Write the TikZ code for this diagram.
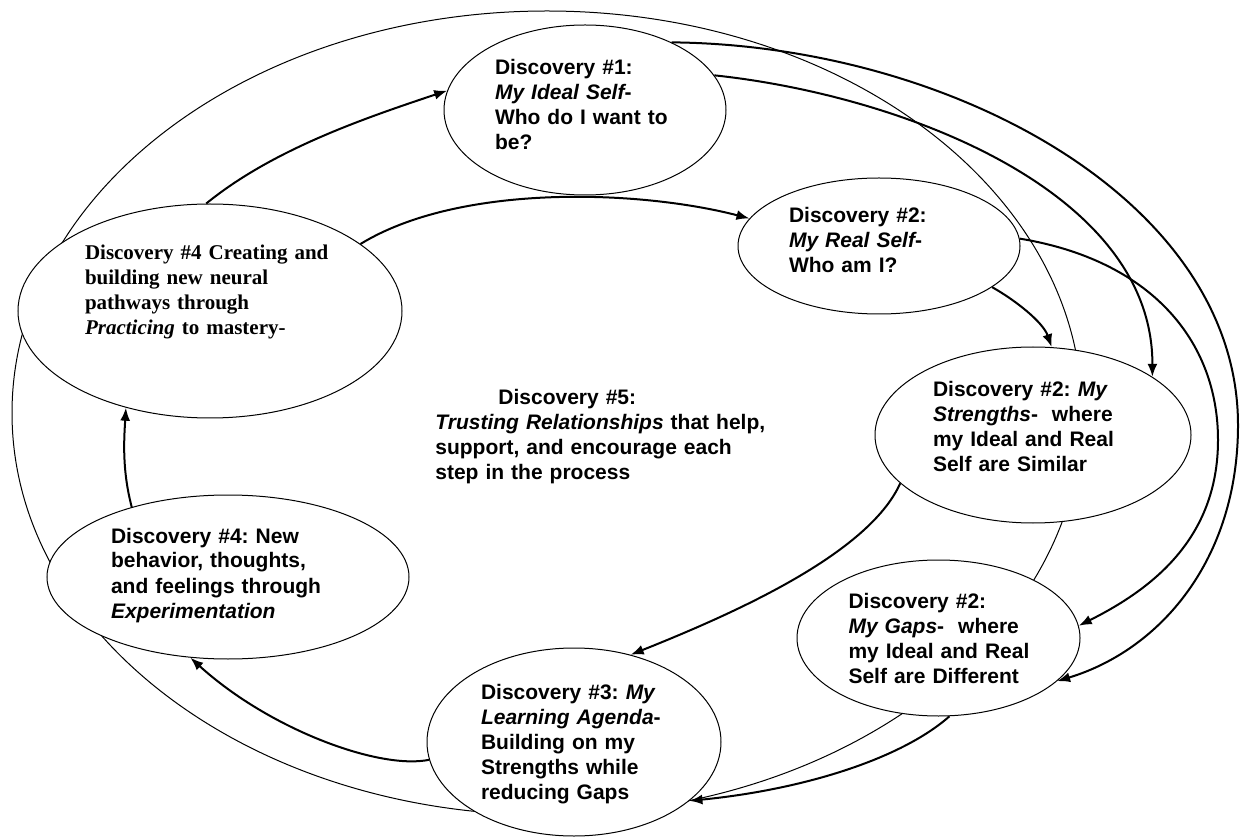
\documentclass[tikz,border=0pt]{standalone}
\usepackage{fontspec}
\setmainfont{Liberation Sans}
\newfontfamily\serifbold{Liberation Serif}
\usetikzlibrary{shapes.geometric,arrows.meta}

\tikzset{
  disc/.style={ellipse, draw, fill=white, line width=0.5pt, inner sep=0pt,
    align=left, text height=8pt,
    font=\fontsize{10.5pt}{12.5pt}\selectfont\bfseries\frenchspacing},
  flow/.style={->, line width=1pt}
}

\begin{document}
\begin{tikzpicture}[x=0.5pt, y=-0.5pt, >={Latex[length=6.5pt,width=5pt]}]
    \useasboundingbox (0,0) rectangle (1242,839);

    % the big loop behind everything
    \draw[line width=0.5pt] (547,413) ellipse [x radius=535, y radius=402];

    \node[disc, minimum width=141pt, minimum height=85pt, text width=90pt, text depth=43pt] (ideal) at (585,110)
        {Discovery \#1:\\ {\itshape My Ideal Self}-\\ Who do I want to\\ be?};
    \node[disc, minimum width=141pt, minimum height=68pt, text width=90pt, text depth=31pt] (real) at (879,246)
        {Discovery \#2:\\ {\itshape My Real Self}-\\ Who am I?};
    \node[disc, minimum width=158pt, minimum height=88pt, text width=100pt, text depth=46pt] (strengths) at (1033,435)
        {Discovery \#2: {\itshape My}\\ {\itshape Strengths}-~ where\\ my~Ideal~and~Real\\ Self are Similar};
    \node[disc, minimum width=141.5pt, minimum height=78pt, text width=90pt, text depth=38pt] (gaps) at (938.5,638)
        {Discovery \#2:\\ {\itshape My Gaps}-~ where\\ my~Ideal~and~Real\\ Self~are~Different};
    \node[disc, minimum width=147pt, minimum height=94pt, text width=93pt, text depth=51pt] (learning) at (574,742)
        {Discovery \#3: {\itshape My}\\ {\itshape Learning Agenda}-\\ Building on my\\ Strengths while\\ reducing Gaps};
    \node[disc, minimum width=181pt, minimum height=82pt, text width=117pt, text depth=42pt] (exper) at (228,577)
        {Discovery \#4: New\\ behavior, thoughts,\\ and feelings through\\ {\itshape Experimentation}};
    \node[disc, minimum width=192pt, minimum height=107pt, text width=125pt, text depth=59pt,
          font=\fontsize{10.5pt}{12.5pt}\selectfont\serifbold\bfseries\frenchspacing] (practicing) at (210,311)
        {Discovery \#4 Creating and\\ building new neural\\ pathways through\\ {\itshape Practicing} to mastery-};

    % centre text
    \node[anchor=base west, inner sep=0pt, text width=180pt, align=left,
          font=\fontsize{10.5pt}{12.5pt}\selectfont\bfseries\frenchspacing] (trust) at (435,405)
        {\hspace*{31.5pt}Discovery \#5:\\ {\itshape Trusting Relationships} that help,\\ support, and encourage each\\ step in the process};

    % the cycle
    \draw[flow] (practicing.92) .. controls (272,150) and (362,119) .. (ideal.172);
    \draw[flow] (practicing.24) .. controls (460,183) and (640,190) .. (real.168);
    \draw[flow] (real.-20) .. controls (1015,300) and (1043,322) .. (strengths.78);
    \draw[flow] (ideal.38) .. controls (950,45) and (1238,200) .. (1238,425)
                .. controls (1238,560) and (1160,650) .. (gaps.-20);
    \draw[flow] (ideal.15) .. controls (900,95) and (1153,190) .. (strengths.26);
    \draw[flow] (real.3) .. controls (1150,260) and (1218,340) .. (1218,440)
                .. controls (1218,540) and (1150,590) .. (gaps.5);
    \draw[flow] (strengths.200) .. controls (868,555) and (730,615) .. (learning.57);
    \draw[flow] (gaps.278) .. controls (900,760) and (800,790) .. (learning.-27);
    \draw[flow] (learning.187) .. controls (380,770) and (270,730) .. (exper.245);
    \draw[flow] (exper.144) .. controls (122,470) and (124,440) .. (practicing.229);
\end{tikzpicture}
\end{document}
